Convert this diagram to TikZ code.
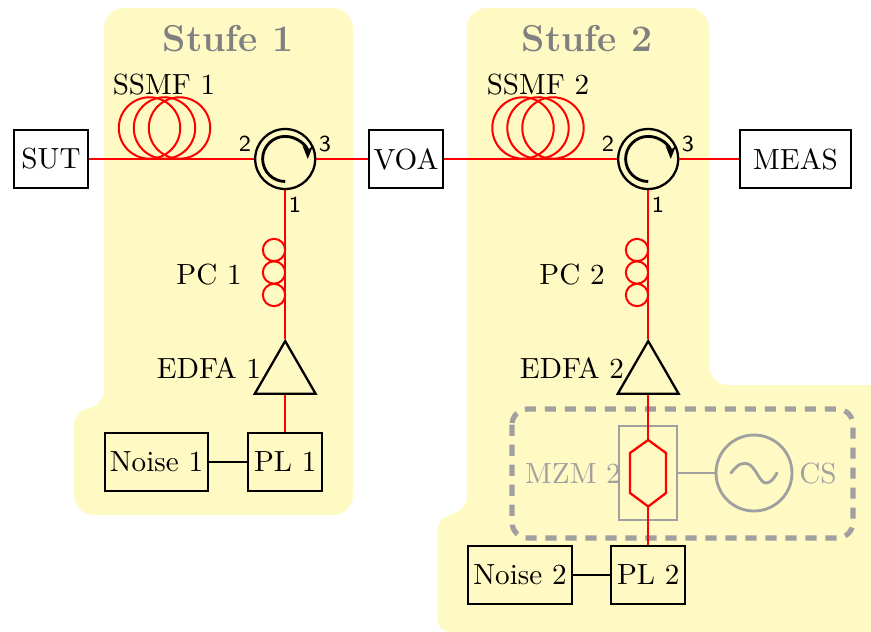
\documentclass[tikz,border=0pt]{standalone}
\usetikzlibrary{shapes.geometric,arrows.meta,calc}
\definecolor{bgyellow}{HTML}{FFF9C3}
\definecolor{mygray}{HTML}{A0A0A0}
\tikzset{
  box/.style={draw=black,line width=0.8pt,minimum height=20.4pt,inner sep=0pt},
  fiber/.style={draw=red,line width=0.8pt},
  wire/.style={draw=black,line width=0.8pt},
  graywire/.style={draw=mygray,line width=0.8pt},
  coil/.style={circle,draw=red,line width=0.7pt,minimum size=21.5pt,inner sep=0pt},
  pcloop/.style={circle,draw=red,line width=0.7pt,minimum size=7.8pt,inner sep=0pt},
  circulator/.style={circle,draw=black,line width=0.8pt,fill=bgyellow,minimum size=21pt,inner sep=0pt},
  amp/.style={regular polygon,regular polygon sides=3,draw=black,line width=0.8pt,minimum size=24.6pt,inner sep=0pt},
  port/.style={font=\sffamily\footnotesize,inner sep=0pt},
  lab/.style={inner sep=0pt},
  graylab/.style={inner sep=0pt,text=mygray},
  stage/.style={inner sep=0pt,text=black!50,font=\bfseries\fontsize{13.1}{15}\selectfont},
  turn/.style={line width=1pt,-{Stealth[length=4.6pt,width=3.6pt]}},
}
\begin{document}
\begin{tikzpicture}[x=0.35pt,y=-0.35pt,every node/.append style={font=\fontsize{10.2}{12}\selectfont}]
\useasboundingbox (0,0) rectangle (871,632);
% stage backgrounds
\fill[bgyellow] (124,8) -- (333,8) .. controls (344,8) and (353,17) .. (353,28)
  -- (353,495) .. controls (353,506) and (344,515) .. (333,515)
  -- (94,515) .. controls (83,515) and (74,506) .. (74,495)
  -- (74,426) .. controls (74,416) and (80,410) .. (90,408)
  .. controls (98,406) and (104,398) .. (104,388)
  -- (104,28) .. controls (104,17) and (113,8) .. (124,8) -- cycle;
\fill[bgyellow] (487,8) -- (689,8) .. controls (700,8) and (709,17) .. (709,28)
  -- (709,366) .. controls (709,376) and (718,385) .. (728,385)
  -- (871,385) -- (871,632) -- (451,632) .. controls (443,632) and (437,626) .. (437,618)
  -- (437,532) .. controls (437,523) and (442,518) .. (450,515)
  .. controls (460,512) and (467,506) .. (467,496)
  -- (467,28) .. controls (467,17) and (476,8) .. (487,8) -- cycle;
\node[stage] (st1) at (228,39) {Stufe 1};
\node[stage] (st2) at (587,39) {Stufe 2};
% dashed group
\draw[mygray,line width=1.8pt,dash pattern=on 3.9pt off 3.1pt,rounded corners=5.5pt] (512,409) rectangle (853,538);
% main boxes
\node[box,minimum width=25.9pt] (sut) at (51,159) {SUT};
\node[box,minimum width=25.9pt] (voa) at (406,159) {VOA};
\node[box,minimum width=38.9pt] (meas) at (795.5,159) {MEAS};
\node[circulator] (c1) at (285.2,159) {};
\node[circulator] (c2) at (648.2,159) {};
% coils
\node[coil] (k1a) at (149.5,128) {};
\node[coil] (k1b) at (164.5,128) {};
\node[coil] (k1c) at (179.5,128) {};
\node[coil] (k2a) at (523,128) {};
\node[coil] (k2b) at (538,128) {};
\node[coil] (k2c) at (553,128) {};
\node[lab] (ssmf1) at (164,85) {SSMF 1};
\node[lab] (ssmf2) at (538,85) {SSMF 2};
% PC
\node[pcloop] (p1a) at (274,250) {};
\node[pcloop] (p1b) at (274,272.5) {};
\node[pcloop] (p1c) at (274,295) {};
\node[pcloop] (p2a) at (637,250) {};
\node[pcloop] (p2b) at (637,272.5) {};
\node[pcloop] (p2c) at (637,295) {};
\node[lab] (pc1) at (209,275) {PC 1};
\node[lab] (pc2) at (572,275) {PC 2};
% amps
\node[amp] (a1) at (285.2,376.2) {};
\node[amp] (a2) at (648.2,376.2) {};
\node[lab] (e1) at (209,368) {EDFA 1};
\node[lab] (e2) at (572,368) {EDFA 2};
% lower boxes
\node[box,minimum width=36.2pt] (n1) at (156.5,462) {Noise 1};
\node[box,minimum width=25.9pt] (pl1) at (285.2,462) {PL 1};
\node[box,minimum width=36.2pt] (n2) at (520,575) {Noise 2};
\node[box,minimum width=25.9pt] (pl2) at (648.2,575) {PL 2};
% MZM
\node[draw=mygray,line width=0.6pt,minimum width=20.3pt,minimum height=32.9pt,inner sep=0pt] (mzm) at (648.2,473) {};
\node[graylab] (mzml) at (573,474) {MZM 2};
\node[circle,draw=mygray,line width=1pt,minimum size=26.6pt,inner sep=0pt] (cs) at (754,473) {};
\node[graylab] (csl) at (818,474) {CS};
\coordinate (hu) at (648.2,440);
\coordinate (hd) at (648.2,506.5);
\draw[mygray,line width=1pt,line cap=round] (731,473) .. controls (738,464) and (743,461) .. (750,465)
  .. controls (757,470) and (760,483) .. (766,483) .. controls (771,483) and (774,478) .. (777,473);
\draw[fiber,line join=miter] (hu) -- (666,453) -- (666,493) -- (hd) -- (630,493) -- (630,453) -- cycle;
% connectors
\draw[fiber] (sut.east) -- (c1.west);
\draw[fiber] (c1.east) -- (voa.west);
\draw[fiber] (voa.east) -- (c2.west);
\draw[fiber] (c2.east) -- (meas.west);
\draw[fiber] (c1.south) -- (a1.north);
\draw[fiber] (c2.south) -- (a2.north);
\draw[fiber] (a1.south) -- (pl1.north);
\draw[fiber] (a2.south) -- (hu);
\draw[fiber] (hd) -- (pl2.north);
\draw[wire] (n1.east) -- (pl1.west);
\draw[wire] (n2.east) -- (pl2.west);
\draw[graywire] (mzm.east) -- (cs.west);
% circulator arrows
\draw[turn] ($(c1.center)+(0,22.5)$) arc[start angle=270,end angle=0,radius=7.9pt];
\draw[turn] ($(c2.center)+(0,22.5)$) arc[start angle=270,end angle=0,radius=7.9pt];
% ports
\node[port] (c1p2) at (245,144) {2};
\node[port] (c1p3) at (325,144) {3};
\node[port] (c1p1) at (295,205) {1};
\node[port] (c2p2) at (608,144) {2};
\node[port] (c2p3) at (688,144) {3};
\node[port] (c2p1) at (658,205) {1};
\end{tikzpicture}
\end{document}
